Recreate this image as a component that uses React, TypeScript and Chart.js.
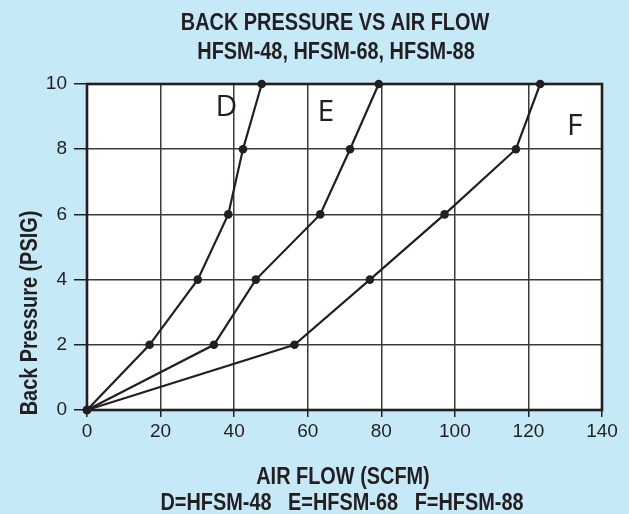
import { useEffect, useRef } from 'react';
import { Chart, registerables } from 'chart.js';

Chart.register(...registerables);

// ---- data ----
const pressure = [0, 2, 4, 6, 8, 10];
const flowD = [0, 17.0, 30.1, 38.4, 42.4, 47.5];
const flowE = [0, 34.5, 45.9, 63.4, 71.5, 79.3];
const flowF = [0, 56.4, 76.9, 97.2, 116.6, 123.2];
const curveNames = ['D', 'E', 'F'];
const curveLabelFlow = [37.9, 64.9, 132.6];
const curveLabelPressure = [9.36, 9.2, 8.76];

const titleLines = ['BACK PRESSURE VS AIR FLOW', 'HFSM-48, HFSM-68, HFSM-88'];
const xTitleLines = ['AIR FLOW (SCFM)', 'D=HFSM-48   E=HFSM-68   F=HFSM-88'];
const yTitle = 'Back Pressure (PSIG)';

const BG = '#c6e9f8';
const INK = '#231f20';
const SANS = '"Liberation Sans", Arial, Helvetica, sans-serif';

function condText(ctx: CanvasRenderingContext2D, text: string, x: number, y: number, rot = 0) {
  ctx.save();
  ctx.translate(x, y);
  ctx.rotate(rot);
  ctx.scale(0.865, 1);
  ctx.fillText(text, 0, 0);
  ctx.restore();
}

const decor = {
  id: 'decor',
  beforeDraw(chart: any) {
    const { ctx, chartArea: a, width, height } = chart;
    ctx.save();
    ctx.fillStyle = BG;
    ctx.fillRect(0, 0, width, height);
    ctx.fillStyle = '#ffffff';
    ctx.fillRect(a.left, a.top, a.right - a.left, a.bottom - a.top);
    ctx.restore();
  },
  beforeDatasetsDraw(chart: any) {
    const { ctx, chartArea: a } = chart;
    ctx.save();
    ctx.strokeStyle = INK;
    ctx.lineWidth = 2.6;
    ctx.strokeRect(a.left, a.top, a.right - a.left, a.bottom - a.top);
    ctx.restore();
  },
  afterDraw(chart: any) {
    const { ctx } = chart;
    const xs = chart.scales.x;
    const ys = chart.scales.y;
    ctx.save();
    ctx.fillStyle = INK;
    ctx.textAlign = 'center';
    ctx.textBaseline = 'alphabetic';
    ctx.font = `bold 23px ${SANS}`;
    condText(ctx, titleLines[0], 335, 30);
    condText(ctx, titleLines[1], 336, 59);
    condText(ctx, xTitleLines[0], 343, 483.5);
    condText(ctx, xTitleLines[1], 342, 510);
    condText(ctx, yTitle, 36.5, 313, -Math.PI / 2);
    ctx.font = `30px "Open Sans", ${SANS}`;
    curveNames.forEach((n, i) => {
      const px = xs.getPixelForValue(curveLabelFlow[i]);
      const py = ys.getPixelForValue(curveLabelPressure[i]);
      ctx.fillText(n, px, py + 10.7);
    });
    ctx.restore();
  },
};

export default function App() {
  const ref = useRef<HTMLCanvasElement>(null);
  useEffect(() => {
    document.body.style.margin = '0';
    const canvas = ref.current!;
    const series = [flowD, flowE, flowF];
    const chart = new Chart(canvas, {
      type: 'scatter',
      data: {
        datasets: series.map((flow, i) => ({
          label: curveNames[i],
          data: flow.map((f, j) => ({ x: f, y: pressure[j] })),
          showLine: true,
          borderColor: INK,
          borderWidth: 2.2,
          backgroundColor: INK,
          pointBackgroundColor: INK,
          pointBorderWidth: 0,
          pointRadius: 4.3,
          tension: 0,
          clip: false as any,
        })),
      },
      options: {
        responsive: false,
        animation: false,
        layout: { padding: { top: 84, right: 27, left: 0, bottom: 0 } },
        plugins: {
          legend: { display: false },
          tooltip: { enabled: false },
          title: { display: false },
        },
        scales: {
          x: {
            type: 'linear',
            min: 0,
            max: 140,
            ticks: { stepSize: 20, color: INK, font: { family: SANS, size: 19 }, padding: 3 },
            grid: { color: '#3a3a3a', lineWidth: 1.5, tickLength: 7, tickColor: INK },
            border: { display: false },
            afterFit: (s: any) => {
              s.height = 104;
            },
          },
          y: {
            type: 'linear',
            min: 0,
            max: 10,
            ticks: { stepSize: 2, color: INK, font: { family: SANS, size: 19 }, padding: 7 },
            grid: { color: '#3a3a3a', lineWidth: 1.5, tickLength: 13, tickColor: INK },
            border: { display: false },
            afterFit: (s: any) => {
              s.width = 87;
            },
          },
        },
      },
      plugins: [decor],
    });
    return () => chart.destroy();
  }, []);
  return (
    <canvas ref={ref} width={629} height={514} style={{ display: 'block', width: 629, height: 514 }} />
  );
}
